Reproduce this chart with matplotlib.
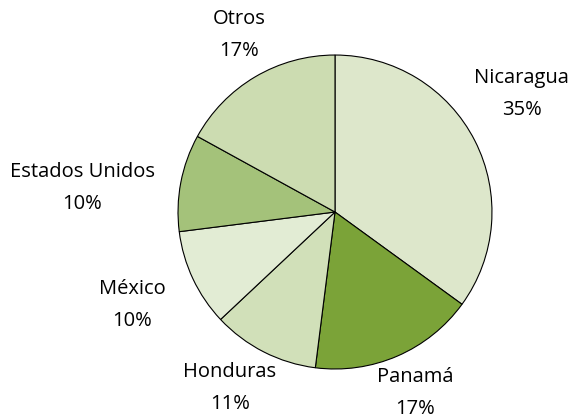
import matplotlib.pyplot as plt

# data
countries = ["Nicaragua", "Panamá", "Honduras", "México", "Estados Unidos", "Otros"]
shares = [35, 17, 11, 10, 10, 17]
colors = ["#dde7cb", "#7ba338", "#d1e0b9", "#e2ecd4", "#a4c27a", "#ccdcb1"]

# label centers, in units of the pie radius
label_xy = [(1.19, 0.75), (0.51, -1.15), (-0.67, -1.12), (-1.29, -0.59),
            (-1.61, 0.15), (-0.61, 1.13)]

plt.rcParams['font.family'] = ['Open Sans', 'DejaVu Sans']

fig = plt.figure(figsize=(5.78, 4.19), dpi=100)
ax = fig.add_axes([0, 0, 1, 1])

ax.pie(shares, colors=colors, startangle=90, counterclock=False,
       wedgeprops=dict(edgecolor="black", linewidth=0.8))

for name, val, (x, y) in zip(countries, shares, label_xy):
    ax.text(x, y, f"{name}\n{val}%", ha="center", va="center",
            fontsize=14.5, linespacing=1.8, color="black")

ax.set_xlim(-2.134, 1.548)
ax.set_ylim(-1.318, 1.350)
ax.set_aspect("equal")
ax.axis("off")

fig.savefig("out.png", dpi=100)
